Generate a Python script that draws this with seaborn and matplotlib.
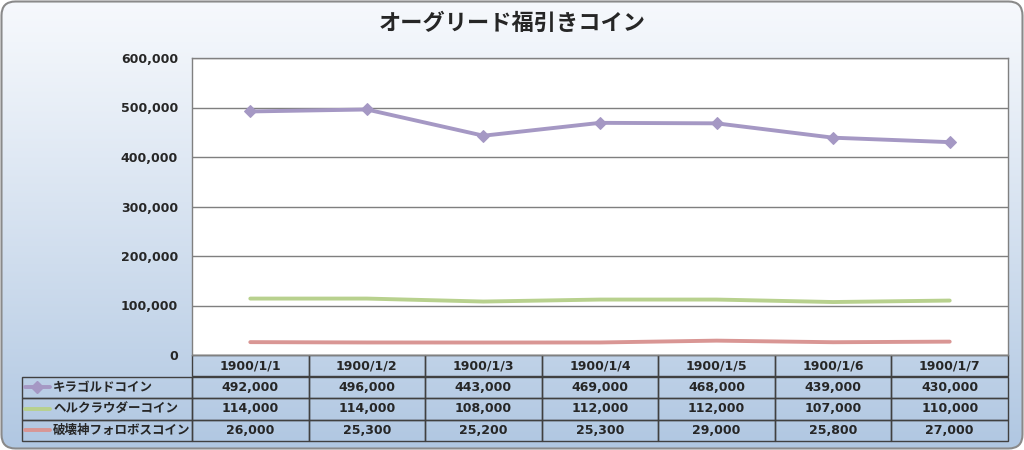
import numpy as np
import pandas as pd
import matplotlib
matplotlib.use("Agg")
import matplotlib.pyplot as plt
from matplotlib.patches import FancyBboxPatch
from matplotlib.lines import Line2D
import seaborn as sns

# data
dates = ['1900/1/1', '1900/1/2', '1900/1/3', '1900/1/4', '1900/1/5', '1900/1/6', '1900/1/7']
series_names = ['キラゴルドコイン', 'ヘルクラウダーコイン', '破壊神フォロボスコイン']
kira = [492000, 496000, 443000, 469000, 468000, 439000, 430000]
herl = [114000, 114000, 108000, 112000, 112000, 107000, 110000]
hakai = [26000, 25300, 25200, 25300, 29000, 25800, 27000]
y_ticks = [0, 100000, 200000, 300000, 400000, 500000, 600000]
title = 'オーグリード福引きコイン'

colors = ['#a598c4', '#b8d18e', '#d99694']
markers = ['D', None, None]

sns.set_theme(style='white')
plt.rcParams['font.family'] = ['DejaVu Sans', 'Noto Sans CJK JP']

W, H = 1024, 450
fig = plt.figure(figsize=(W / 100, H / 100), dpi=100)

# background: rounded box with vertical gradient
bg = fig.add_axes([0, 0, 1, 1], zorder=-10)
bg.set_axis_off()
grad = np.linspace(0, 1, 256).reshape(-1, 1)
top_c = np.array([0.965, 0.975, 0.99])
bot_c = np.array([0.69, 0.78, 0.885])
img = top_c + (bot_c - top_c) * grad[:, :, None] ** 1.1
im = bg.imshow(img, extent=[0, W, H, 0], aspect='auto')
box = FancyBboxPatch((1.5, 1.5), W - 3, H - 3, boxstyle='round,pad=0,rounding_size=14',
                     facecolor='none', edgecolor='#8a8a8a', linewidth=1.5)
bg.add_patch(box)
im.set_clip_path(box)
bg.set_xlim(0, W)
bg.set_ylim(H, 0)

# plot area
px0, px1, py0, py1 = 192, 1008, 58, 355
ax = fig.add_axes([px0 / W, 1 - py1 / H, (px1 - px0) / W, (py1 - py0) / H])
ax.set_facecolor('white')

series = [kira, herl, hakai]
for name, vals, c, m in zip(series_names, series, colors, markers):
    sns.lineplot(x=dates, y=vals, ax=ax, color=c, linewidth=2.8, marker=m,
                 markersize=6, markeredgecolor=c, sort=False)

ax.set_xlim(-0.5, len(dates) - 0.5)
ax.set_ylim(0, 600000)
ax.set_yticks(y_ticks)
ax.set_yticklabels([f'{v:,}' for v in y_ticks], fontsize=9, fontweight='bold')
ax.tick_params(axis='y', length=0, pad=10)
ax.set_xticks([])
ax.grid(axis='y', color='#7f7f7f', linewidth=1)
ax.set_axisbelow(True)
for s in ax.spines.values():
    s.set_color('#808080')
    s.set_linewidth(1)
ax.set_xlabel('')
ax.set_ylabel('')

fig.text(0.5, 1 - 23 / H, title, ha='center', va='center', fontsize=16, fontweight='bold',
         family=['Noto Sans CJK JP'])

# data table
aw = px1 - px0
ah = py1 - py0
tx0 = 22
ty1 = 441
cell_text = [[''] + dates]
for name, vals in zip(series_names, series):
    cell_text.append([''] + [f'{v:,}' for v in vals])
label_w = (px0 - tx0)
col_w = [label_w] + [aw / len(dates)] * len(dates)
tbl = ax.table(cellText=cell_text, colWidths=col_w, cellLoc='center',
               bbox=[(tx0 - px0) / aw, -(ty1 - py1) / ah, (px1 - tx0) / aw, (ty1 - py1) / ah])
tbl.auto_set_font_size(False)
for (r, c), cell in tbl.get_celld().items():
    cell.set_facecolor('none')
    cell.set_edgecolor('#404040')
    cell.set_linewidth(1)
    cell.get_text().set_fontsize(9)
    cell.get_text().set_fontweight('bold')
    if r == 0 and c == 0:
        cell.visible_edges = ''

# row labels with legend keys
row_h = (ty1 - py1) / 4
for i, (name, c, m) in enumerate(zip(series_names, colors, markers)):
    yc = py1 + row_h * (i + 1.5)
    yy = -(yc - py1) / ah
    ax.add_line(Line2D([(25 - px0) / aw, (50 - px0) / aw], [yy, yy], transform=ax.transAxes,
                       color=c, linewidth=2.8, clip_on=False))
    if m:
        ax.add_line(Line2D([(37 - px0) / aw], [yy], transform=ax.transAxes, color=c,
                           marker=m, markersize=6, clip_on=False))
    ax.text((53 - px0) / aw, yy, name, transform=ax.transAxes, ha='left', va='center',
            fontsize=9, fontweight='bold', family=['Noto Sans CJK JP'])

fig.savefig('out.png', dpi=100)
